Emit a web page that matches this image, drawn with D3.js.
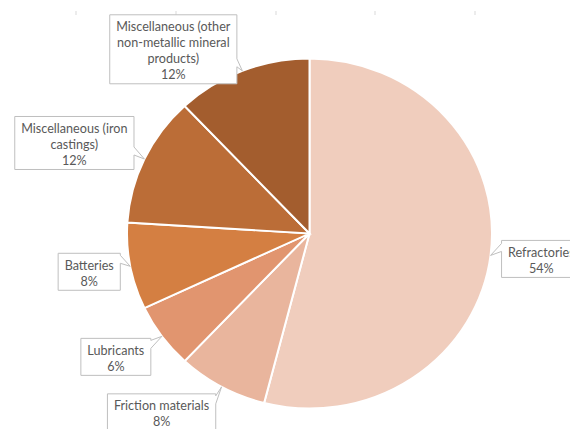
<!DOCTYPE html>
<html>
<head>
<meta charset="utf-8">
<script src="https://cdn.jsdelivr.net/npm/d3@7"></script>
<style>
  body { margin: 0; background: #fff; }
  text { font-family: Lato, "Open Sans", sans-serif; }
</style>
</head>
<body>
<script>
var w = 570;
var h = 429;

// data
var categories = ["Refractories", "Friction materials", "Lubricants", "Batteries",
  "Miscellaneous (iron castings)", "Miscellaneous (other non-metallic mineral products)"];
var values = [54, 8, 6, 8, 12, 12];
var labelLines = [
  ["Refractories"],
  ["Friction materials"],
  ["Lubricants"],
  ["Batteries"],
  ["Miscellaneous (iron", "castings)"],
  ["Miscellaneous (other", "non-metallic mineral", "products)"]
];
var colors = ["#f0cdbd", "#e9b59d", "#e1956f", "#d47f42", "#bb6d37", "#a35d2e"];

// label box offsets from the pointer tip (box centre)
var labelOffset = [[53, 3.5], [-60, 25.5], [-46, 20.5], [-41, 5.5], [-70, -16], [-69, -21.5]];

var cx = 309.5, cy = 233.5, rx = 182.5, ry = 175;

var svg = d3.select("body").append("svg")
  .attr("width", w)
  .attr("height", h);

// faint tick marks at the top
var ticks = [76, 176, 276, 375, 475];
svg.selectAll(".tick")
  .data(ticks)
  .enter()
  .append("line")
  .attr("x1", function (d) { return d; })
  .attr("x2", function (d) { return d; })
  .attr("y1", 11)
  .attr("y2", 15)
  .attr("stroke", "#d9d9d9")
  .attr("stroke-width", 1);

var pie = d3.pie().sort(null).value(function (d) { return d; });
var arcs = pie(values);

var arc = d3.arc().innerRadius(0).outerRadius(rx);

var chart = svg.append("g")
  .attr("transform", "translate(" + cx + "," + cy + ") scale(1," + (ry / rx) + ")");

chart.selectAll(".slice")
  .data(arcs)
  .enter()
  .append("path")
  .attr("d", arc)
  .attr("fill", function (d, i) { return colors[i]; })
  .attr("stroke", "#fff")
  .attr("stroke-width", 2);

// callout labels
var labels = svg.append("g");

arcs.forEach(function (d, i) {
  var a = (d.startAngle + d.endAngle) / 2;
  var tx = cx + rx * Math.sin(a);
  var ty = cy - ry * Math.cos(a);
  var lines = labelLines[i].concat([values[i] + "%"]);

  var g = labels.append("g");
  var txt = g.append("text")
    .attr("font-size", "12.6px")
    .attr("fill", "#595959")
    .attr("text-anchor", "middle");
  lines.forEach(function (l) { txt.append("tspan").text(l); });

  var maxW = 0;
  txt.selectAll("tspan").each(function () {
    maxW = Math.max(maxW, this.getComputedTextLength());
  });
  var bw = maxW + 13;
  var bh = 16 * lines.length + 5;
  var bcx = tx + labelOffset[i][0];
  var bcy = ty + labelOffset[i][1];
  var x0 = bcx - bw / 2, x1 = bcx + bw / 2, y0 = bcy - bh / 2, y1 = bcy + bh / 2;
  // Refractories box is anchored on its left edge
  if (i === 0) { x0 = tx + 11; x1 = x0 + bw; bcx = x0 + bw / 2; }

  txt.selectAll("tspan")
    .attr("x", bcx)
    .attr("y", function (l, j) { return y0 + 16.5 + 16 * j; });

  function base(p, s0, s1) {
    var b0 = p - 12, b1 = p - 4;
    if (b0 < s0 + 2) { b0 = s0 + 2; b1 = b0 + 8; }
    if (b1 > s1 - 2) { b1 = s1 - 2; b0 = b1 - 8; }
    return [b0, b1];
  }
  var pts, b;
  if (tx > x1 && ty < y0) {
    pts = [[x0, y0], [x1, y0], [x1, y0 + 2], [tx, ty], [x1, y0 + 10], [x1, y1], [x0, y1]];
  } else if (tx > x1) {
    b = base(ty, y0, y1);
    pts = [[x0, y0], [x1, y0], [x1, b[0]], [tx, ty], [x1, b[1]], [x1, y1], [x0, y1]];
  } else if (tx < x0) {
    b = base(ty, y0, y1);
    pts = [[x0, y0], [x1, y0], [x1, y1], [x0, y1], [x0, b[1]], [tx, ty], [x0, b[0]]];
  } else if (ty < y0) {
    b = base(tx, x0, x1);
    pts = [[x0, y0], [b[0], y0], [tx, ty], [b[1], y0], [x1, y0], [x1, y1], [x0, y1]];
  } else {
    b = base(tx, x0, x1);
    pts = [[x0, y0], [x1, y0], [x1, y1], [b[1], y1], [tx, ty], [b[0], y1], [x0, y1]];
  }

  g.insert("path", "text")
    .attr("d", "M" + pts.map(function (p) { return p[0] + "," + p[1]; }).join("L") + "Z")
    .attr("fill", "#fff")
    .attr("stroke", "#bfbfbf")
    .attr("stroke-width", 1);
});
</script>
</body>
</html>
